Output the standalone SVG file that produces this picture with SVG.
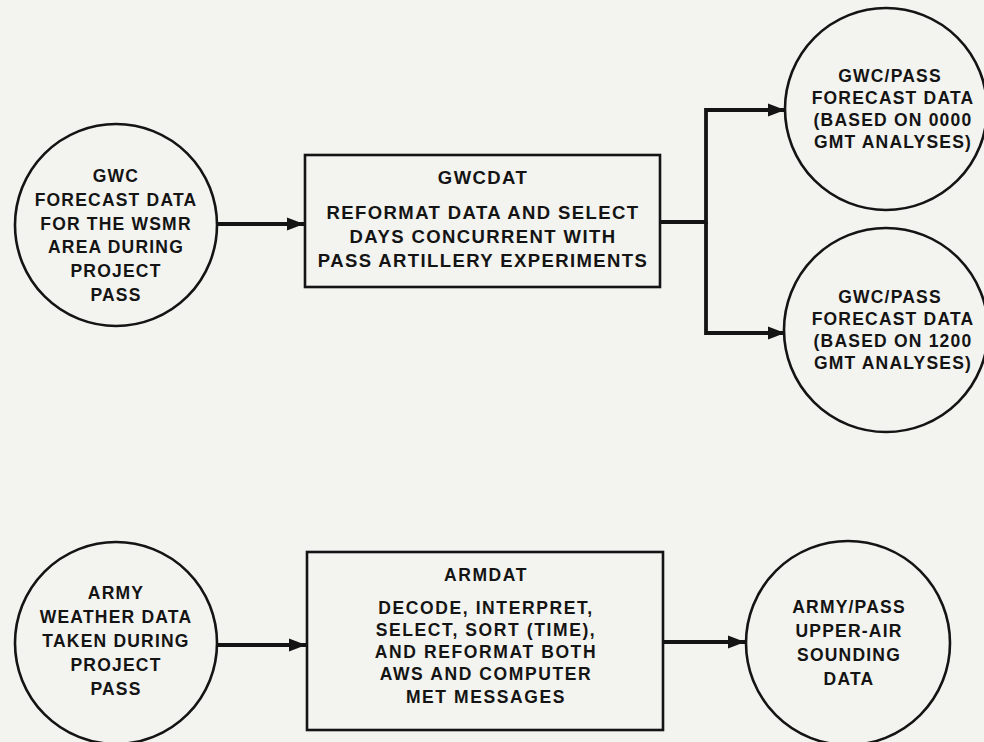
<svg xmlns="http://www.w3.org/2000/svg" width="984" height="742" viewBox="0 0 984 742">
<style>
.bg{fill:#f3f3ef}
.node circle,.node rect{fill:none;stroke:#141414;stroke-width:2.6}
.c{font-family:"Liberation Sans",Arial,sans-serif;font-weight:bold;font-size:17.5px;letter-spacing:1.2px;fill:#141414;text-anchor:middle}
.b{font-family:"Liberation Sans",Arial,sans-serif;font-weight:bold;font-size:18.5px;letter-spacing:1.4px;fill:#141414;text-anchor:middle}
.b2{font-family:"Liberation Sans",Arial,sans-serif;font-weight:bold;font-size:17.5px;letter-spacing:1.6px;fill:#141414;text-anchor:middle}
.conn{fill:none;stroke:#141414;stroke-width:3.8}
</style>
<defs>
<marker id="ah" markerUnits="userSpaceOnUse" markerWidth="20" markerHeight="16" refX="17" refY="8" orient="auto">
<path d="M0,1.5 L17,8 L0,14.5 Z" fill="#141414"/>
</marker>
</defs>
<rect class="bg" x="0" y="0" width="984" height="742"/>

<g id="gwc-input" class="node">
<circle cx="116" cy="225" r="101"/>
<text class="c" x="116" y="182">GWC</text>
<text class="c" x="116" y="206">FORECAST DATA</text>
<text class="c" x="116" y="230">FOR THE WSMR</text>
<text class="c" x="116" y="253">AREA DURING</text>
<text class="c" x="116" y="277">PROJECT</text>
<text class="c" x="116" y="301">PASS</text>
</g>

<g id="gwcdat" class="node">
<rect x="305" y="155" width="355" height="132"/>
<text class="b" x="483" y="184">GWCDAT</text>
<text class="b" x="483" y="219">REFORMAT DATA AND SELECT</text>
<text class="b" x="483" y="243">DAYS CONCURRENT WITH</text>
<text class="b" x="483" y="267">PASS ARTILLERY EXPERIMENTS</text>
</g>

<g id="gwc-pass-0000" class="node">
<circle cx="886" cy="109" r="101"/>
<text class="c" x="890" y="82">GWC/PASS</text>
<text class="c" x="893" y="104">FORECAST DATA</text>
<text class="c" x="893" y="126">(BASED ON 0000</text>
<text class="c" x="893" y="148">GMT ANALYSES)</text>
</g>

<g id="gwc-pass-1200" class="node">
<circle cx="886" cy="330" r="102"/>
<text class="c" x="890" y="303">GWC/PASS</text>
<text class="c" x="893" y="325">FORECAST DATA</text>
<text class="c" x="893" y="347">(BASED ON 1200</text>
<text class="c" x="893" y="369">GMT ANALYSES)</text>
</g>

<g id="army-input" class="node">
<circle cx="116" cy="643" r="101"/>
<text class="c" x="116" y="599">ARMY</text>
<text class="c" x="116" y="623">WEATHER DATA</text>
<text class="c" x="116" y="647">TAKEN DURING</text>
<text class="c" x="116" y="671">PROJECT</text>
<text class="c" x="116" y="695">PASS</text>
</g>

<g id="armdat" class="node">
<rect x="307" y="552" width="356" height="178"/>
<text class="b2" x="486" y="581">ARMDAT</text>
<text class="b2" x="486" y="614">DECODE, INTERPRET,</text>
<text class="b2" x="486" y="636">SELECT, SORT (TIME),</text>
<text class="b2" x="486" y="658">AND REFORMAT BOTH</text>
<text class="b2" x="486" y="680">AWS AND COMPUTER</text>
<text class="b2" x="486" y="703">MET MESSAGES</text>
</g>

<g id="army-pass" class="node">
<circle cx="848" cy="643" r="102"/>
<text class="c" x="849" y="613">ARMY/PASS</text>
<text class="c" x="849" y="637">UPPER-AIR</text>
<text class="c" x="849" y="661">SOUNDING</text>
<text class="c" x="849" y="685">DATA</text>
</g>

<g id="connectors">
<path class="conn" d="M217,224 H304" marker-end="url(#ah)"/>
<path class="conn" d="M660,222 H706 V110 H785" marker-end="url(#ah)"/>
<path class="conn" d="M706,222 V333 H785" marker-end="url(#ah)"/>
<path class="conn" d="M217,645 H306" marker-end="url(#ah)"/>
<path class="conn" d="M663,642 H745" marker-end="url(#ah)"/>
</g>
</svg>
